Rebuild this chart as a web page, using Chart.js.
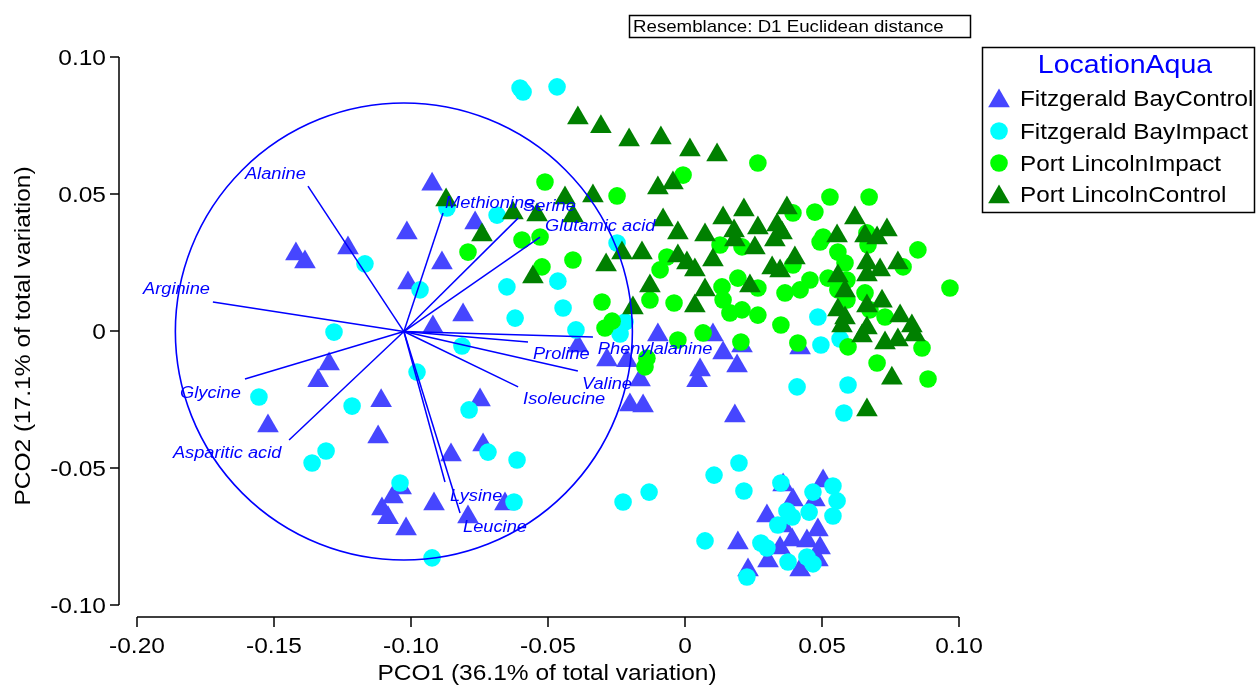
<!DOCTYPE html>
<html>
<head>
<meta charset="utf-8">
<script src="https://cdn.jsdelivr.net/npm/chart.js@4.4.1/dist/chart.umd.min.js"></script>
<style>
html,body{margin:0;padding:0;background:#fff;}
canvas{display:block;}
</style>
</head>
<body>
<canvas id="c" width="1256" height="686"></canvas>
<script>
// ---------- DATA ----------
const seriesNames = ["Fitzgerald BayControl", "Fitzgerald BayImpact", "Port LincolnImpact", "Port LincolnControl"];

const fbcX = [-0.0923,-0.0766,-0.1015,-0.1230,-0.1420,-0.1387,-0.1011,-0.0887,-0.0810,-0.0920,-0.1299,-0.1339,-0.1109,-0.0748,-0.1522,-0.1120,-0.0854,-0.0737,-0.1036,-0.1066,-0.1106,-0.1084,-0.1018,-0.0916,-0.0792,-0.0657,
  -0.0391,-0.0285,-0.0212,-0.0099,-0.0164,-0.0201,-0.0153,
  0.0102,0.0139,0.0208,0.0190,0.0055,0.0044,0.0182,0.0420,
  0.0358,0.0504,0.0394,0.0474,0.0299,0.0358,0.0485,0.0391,0.0445,0.0347,0.0493,0.0485,0.0193,0.0303,0.0420,0.0230];
const fbcY = [0.0536,0.0394,0.0358,0.0303,0.0281,0.0252,0.0175,0.0248,0.0058,0.0015,-0.0120,-0.0182,-0.0255,-0.0252,-0.0347,-0.0387,-0.0453,-0.0416,-0.0573,-0.0606,-0.0650,-0.0682,-0.0723,-0.0631,-0.0679,-0.0631,
  -0.0055,-0.0106,-0.0109,-0.0015,-0.0179,-0.0270,-0.0274,
  -0.0015,-0.0080,-0.0055,-0.0128,-0.0142,-0.0182,-0.0310,-0.0062,
  -0.0562,-0.0547,-0.0617,-0.0617,-0.0675,-0.0712,-0.0726,-0.0763,-0.0766,-0.0792,-0.0792,-0.0836,-0.0774,-0.0839,-0.0872,-0.0872];

const fbiX = [-0.0602,-0.0591,-0.0467,-0.0869,-0.0686,-0.0248,-0.1168,-0.0967,-0.1281,-0.1555,-0.1215,-0.0978,-0.0650,-0.0464,-0.0445,-0.0620,-0.0398,-0.0814,-0.0788,-0.0219,-0.0237,-0.1310,-0.1361,-0.1040,-0.0719,-0.0613,-0.0624,-0.0226,-0.0131,-0.0923,
  0.0485,0.0496,0.0566,0.0409,0.0595,0.0580,
  0.0197,0.0106,0.0215,0.0073,0.0350,0.0467,0.0540,0.0555,0.0540,0.0453,0.0372,0.0391,0.0339,0.0277,0.0299,0.0376,0.0445,0.0467,0.0226];
const fbiY = [0.0887,0.0872,0.0891,0.0449,0.0423,0.0321,0.0245,0.0150,-0.0004,-0.0241,-0.0274,-0.0150,0.0161,0.0182,0.0084,0.0047,0.0004,-0.0055,-0.0288,0.0033,-0.0011,-0.0438,-0.0482,-0.0555,-0.0442,-0.0471,-0.0624,-0.0624,-0.0588,-0.0828,
  0.0051,-0.0051,-0.0029,-0.0204,-0.0197,-0.0299,
  -0.0482,-0.0526,-0.0584,-0.0766,-0.0555,-0.0588,-0.0566,-0.0620,-0.0675,-0.0661,-0.0657,-0.0679,-0.0708,-0.0774,-0.0792,-0.0843,-0.0825,-0.0850,-0.0898];

const pliX = [-0.0511,-0.0248,-0.0007,0.0266,0.0529,0.0672,0.0474,0.0394,-0.0792,-0.0595,-0.0529,-0.0522,-0.0409,-0.0303,-0.0266,-0.0292,-0.0139,-0.0146,-0.0128,-0.0040,
  -0.0091,-0.0066,-0.0026,0.0128,0.0208,0.0493,0.0558,0.0584,0.0394,0.0850,0.0796,0.0668,0.0193,0.0135,0.0139,0.0266,0.0365,0.0420,0.0456,0.0522,
  0.0591,0.0558,0.0591,0.0657,0.0675,0.0730,0.0164,0.0208,0.0266,0.0350,0.0066,0.0204,0.0412,0.0595,0.0701,0.0865,0.0887,0.0967,0.0504,0.0664];
const pliY = [0.0544,0.0493,0.0569,0.0613,0.0489,0.0489,0.0434,0.0431,0.0288,0.0332,0.0343,0.0234,0.0259,0.0106,0.0036,0.0011,-0.0099,-0.0131,0.0113,0.0102,
  0.0223,0.0270,-0.0033,0.0314,0.0307,0.0325,0.0288,0.0248,0.0241,0.0296,0.0234,0.0314,0.0193,0.0161,0.0113,0.0157,0.0139,0.0150,0.0186,0.0193,
  0.0186,0.0150,0.0113,0.0139,0.0077,0.0051,0.0066,0.0077,0.0058,0.0022,-0.0007,-0.0040,-0.0044,-0.0058,-0.0117,-0.0062,-0.0175,0.0157,0.0343,0.0358];

const plcX = [-0.0391,-0.0307,-0.0204,-0.0088,0.0018,0.0117,-0.0099,-0.0044,-0.0872,-0.0438,-0.0336,-0.0628,-0.0540,-0.0409,-0.0741,-0.0080,-0.0026,0.0215,0.0139,0.0179,
  0.0372,0.0336,0.0354,0.0266,0.0620,0.0555,0.0657,0.0701,0.0737,0.0073,0.0182,0.0255,0.0328,0.0401,0.0318,0.0102,0.0036,0.0007,0.0237,0.0073,
  0.0036,0.0664,0.0664,0.0712,0.0777,0.0558,0.0584,0.0558,0.0584,0.0573,0.0664,0.0719,0.0646,0.0664,0.0730,0.0777,0.0785,0.0828,0.0839,0.0755,
  0.0664,-0.0555,-0.0288,-0.0230,-0.0157,-0.0026,-0.0128,-0.0190,0.0347];
const plcY = [0.0777,0.0745,0.0697,0.0704,0.0661,0.0642,0.0522,0.0540,0.0478,0.0485,0.0493,0.0431,0.0423,0.0420,0.0350,0.0405,0.0358,0.0442,0.0412,0.0365,
  0.0449,0.0387,0.0358,0.0376,0.0412,0.0347,0.0347,0.0339,0.0369,0.0350,0.0332,0.0303,0.0332,0.0266,0.0230,0.0259,0.0223,0.0248,0.0164,0.0150,
  0.0091,0.0248,0.0204,0.0223,0.0248,0.0201,0.0146,0.0077,0.0047,0.0018,0.0091,0.0109,-0.0018,0.0011,-0.0044,-0.0033,0.0055,0.0018,-0.0015,-0.0172,
  -0.0288,0.0197,0.0241,0.0285,0.0285,0.0274,0.0164,0.0084,0.0219];

// vectors (variable correlations)
const vecOrigin = [-0.1026, -0.0002];
const vecNames = ["Alanine","Methionine","Serine","Glutamic acid","Arginine","Glycine","Asparitic acid","Lysine","Leucine","Proline","Phenylalanine","Valine","Isoleucine"];
const vecX = [-0.1376,-0.0883,-0.0609,-0.0529,-0.1723,-0.1606,-0.1445,-0.0876,-0.0821,-0.0573,-0.0336,-0.0391,-0.0609];
const vecY = [0.0529,0.0431,0.0412,0.0343,0.0106,-0.0175,-0.0398,-0.0551,-0.0664,-0.0040,-0.0022,-0.0146,-0.0204];
const vecLabelX = [-0.1606,-0.0876,-0.0591,-0.0511,-0.1978,-0.1843,-0.1869,-0.0858,-0.0810,-0.0555,-0.0318,-0.0376,-0.0591];
const vecLabelY = [0.0577,0.0471,0.0460,0.0387,0.0157,-0.0223,-0.0442,-0.0599,-0.0712,-0.0080,-0.0062,-0.0190,-0.0245];
const circleRadius = 0.0834;

const xTicks = [-0.20,-0.15,-0.10,-0.05,0,0.05,0.10];
const xTickLabels = ["-0.20","-0.15","-0.10","-0.05","0","0.05","0.10"];
const yTicks = [-0.10,-0.05,0,0.05,0.10];
const yTickLabels = ["-0.10","-0.05","0","0.05","0.10"];
const xTitle = "PCO1 (36.1% of total variation)";
const yTitle = "PCO2 (17.1% of total variation)";
const legendTitle = "LocationAqua";
const resemblance = "Resemblance: D1 Euclidean distance";

// ---------- STYLE ----------
const FONT = '"Liberation Sans", Arial, sans-serif';
const SX = 1.14; // horizontal text stretch of the original
const colors = ['#4646FF', '#00FFFF', '#00FF00', '#008000'];
const styles = ['triangle', 'circle', 'circle', 'triangle'];
const radii = [12.5, 8.8, 8.8, 12.5];
const VEC = '#0000FF';

function pts(xs, ys) { return xs.map((v, i) => ({x: v, y: ys[i]})); }

function sText(ctx, str, x, y, align, font, color, rot) {
  ctx.save();
  ctx.font = font; ctx.fillStyle = color; ctx.textAlign = align; ctx.textBaseline = 'alphabetic';
  ctx.translate(x, y);
  if (rot) ctx.rotate(rot);
  ctx.scale(SX, 1);
  ctx.fillText(str, 0, 0);
  ctx.restore();
}

function marker(ctx, style, x, y, r, color) {
  ctx.save();
  ctx.fillStyle = color;
  ctx.beginPath();
  if (style === 'triangle') {
    for (let k = 0; k < 3; k++) {
      const a = k * 2 * Math.PI / 3;
      const px = x + Math.sin(a) * r, py = y - Math.cos(a) * r;
      if (k === 0) ctx.moveTo(px, py); else ctx.lineTo(px, py);
    }
    ctx.closePath();
  } else {
    ctx.arc(x, y, r, 0, Math.PI * 2);
  }
  ctx.fill();
  ctx.restore();
}

const seriesX = [fbcX, fbiX, pliX, plcX];
const seriesY = [fbcY, fbiY, pliY, plcY];

const vectorSets = vecNames.map((n, i) => ({
  type: 'line', label: n,
  data: [{x: vecOrigin[0], y: vecOrigin[1]}, {x: vecX[i], y: vecY[i]}],
  showLine: true, borderColor: VEC, borderWidth: 1.5, pointRadius: 0, fill: false, tension: 0
}));

// draw order: index 0 on top
const pointSets = [3, 2, 1, 0].map(k => ({
  type: 'scatter', label: seriesNames[k],
  data: pts(seriesX[k], seriesY[k]),
  pointStyle: styles[k], pointRadius: radii[k], pointHoverRadius: radii[k],
  backgroundColor: colors[k], borderColor: colors[k], borderWidth: 0
}));

const overlay = {
  id: 'overlay',
  afterDatasetsDraw(chart) {
    const ctx = chart.ctx, x = chart.scales.x, y = chart.scales.y;
    const cx = x.getPixelForValue(vecOrigin[0]), cy = y.getPixelForValue(vecOrigin[1]);
    const r = x.getPixelForValue(vecOrigin[0] + circleRadius) - cx;
    ctx.save();
    ctx.beginPath(); ctx.arc(cx, cy, r, 0, Math.PI * 2);
    ctx.strokeStyle = VEC; ctx.lineWidth = 1.6; ctx.stroke();
    ctx.restore();
    vecNames.forEach((n, i) => {
      sText(ctx, n, x.getPixelForValue(vecLabelX[i]), y.getPixelForValue(vecLabelY[i]) + 5.8,
        'left', 'italic 16px ' + FONT, VEC);
    });
  },
  afterDraw(chart) {
    const ctx = chart.ctx, x = chart.scales.x, y = chart.scales.y, a = chart.chartArea;
    ctx.save();
    ctx.strokeStyle = '#000'; ctx.lineWidth = 1.5;
    // y axis (offset left of the plot area)
    const yAxX = a.left - 18;
    ctx.beginPath();
    ctx.moveTo(yAxX, y.getPixelForValue(yTicks[yTicks.length - 1]));
    ctx.lineTo(yAxX, y.getPixelForValue(yTicks[0]));
    yTicks.forEach(t => { const p = y.getPixelForValue(t); ctx.moveTo(yAxX, p); ctx.lineTo(yAxX - 9, p); });
    ctx.stroke();
    // x axis (offset below the plot area)
    const xAxY = a.bottom + 12;
    ctx.beginPath();
    ctx.moveTo(x.getPixelForValue(xTicks[0]), xAxY);
    ctx.lineTo(x.getPixelForValue(xTicks[xTicks.length - 1]), xAxY);
    xTicks.forEach(t => { const p = x.getPixelForValue(t); ctx.moveTo(p, xAxY); ctx.lineTo(p, xAxY + 10); });
    ctx.stroke();
    ctx.restore();
    const tf = '21.5px ' + FONT;
    yTicks.forEach((t, i) => sText(ctx, yTickLabels[i], yAxX - 13, y.getPixelForValue(t) + 7.7, 'right', tf, '#000'));
    xTicks.forEach((t, i) => sText(ctx, xTickLabels[i], x.getPixelForValue(t), xAxY + 36, 'center', tf, '#000'));
    sText(ctx, xTitle, (a.left + a.right) / 2 - 1, a.bottom + 75, 'center', tf, '#000');
    sText(ctx, yTitle, 29.5, (a.top + a.bottom) / 2 + 5, 'center', tf, '#000', -Math.PI / 2);

    // resemblance box
    ctx.save();
    ctx.strokeStyle = '#000'; ctx.lineWidth = 1.5;
    ctx.strokeRect(629.5, 15.5, 341, 22);
    ctx.restore();
    sText(ctx, resemblance, 633, 32, 'left', '16.4px ' + FONT, '#000');

    // legend
    ctx.save();
    ctx.strokeStyle = '#000'; ctx.lineWidth = 1.5;
    ctx.strokeRect(982.5, 47.5, 272, 165);
    ctx.restore();
    sText(ctx, legendTitle, 1125, 73, 'center', '25px ' + FONT, '#0000FF');
    const rowY = [98, 131, 163, 194];
    seriesNames.forEach((n, k) => {
      const off = styles[k] === 'triangle' ? 3 : 0;
      marker(ctx, styles[k], 999, rowY[k] + off, radii[k], colors[k]);
      sText(ctx, n, 1020, rowY[k] + 7.5, 'left', '21.3px ' + FONT, '#000');
    });
  }
};

new Chart(document.getElementById('c'), {
  type: 'scatter',
  data: { datasets: [...vectorSets, ...pointSets] },
  options: {
    responsive: false, devicePixelRatio: 1, animation: false, events: [],
    layout: { padding: { left: 137, right: 297, top: 57, bottom: 81 } },
    scales: {
      x: { type: 'linear', min: -0.20, max: 0.10, display: false },
      y: { type: 'linear', min: -0.10, max: 0.10, display: false }
    },
    plugins: { legend: { display: false }, tooltip: { enabled: false }, title: { display: false } }
  },
  plugins: [overlay]
});
</script>
</body>
</html>
